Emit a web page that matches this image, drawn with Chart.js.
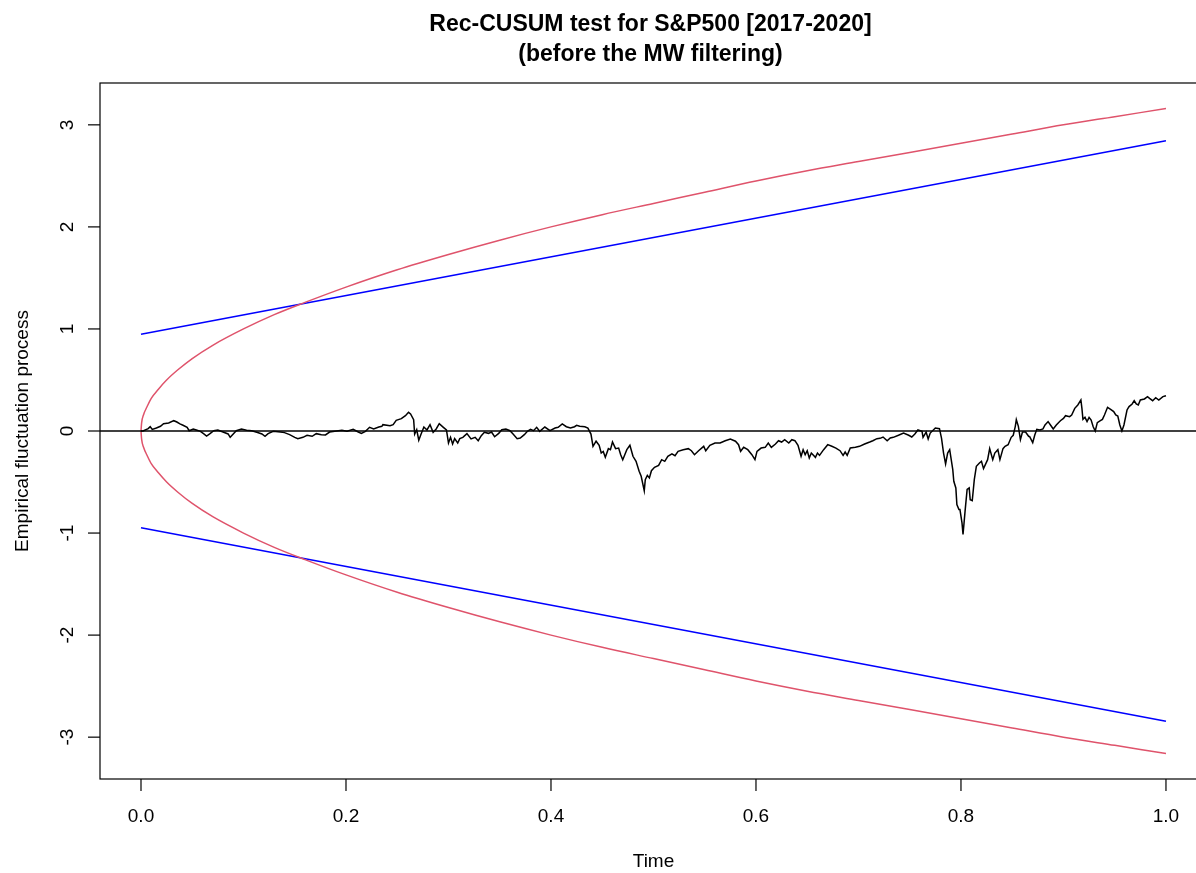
<!DOCTYPE html>
<html>
<head>
<meta charset="utf-8">
<script src="https://cdn.jsdelivr.net/npm/chart.js@4.4.0/dist/chart.umd.min.js"></script>
<style>
  html, body { margin: 0; padding: 0; background: #fff; }
  canvas { display: block; }
</style>
</head>
<body>
<canvas id="myChart" width="1196" height="873"></canvas>
<script>
// empirical fluctuation process
const processTime = [
  0, 0.002, 0.007, 0.009, 0.011, 0.015, 0.019, 0.022, 0.027, 0.032,
  0.035, 0.038, 0.041, 0.045, 0.047, 0.051, 0.054, 0.058, 0.061, 0.064,
  0.067, 0.071, 0.075, 0.080, 0.085, 0.087, 0.090, 0.093, 0.098, 0.103,
  0.108, 0.113, 0.118, 0.121, 0.124, 0.129, 0.136, 0.140, 0.145, 0.150,
  0.153, 0.158, 0.162, 0.167, 0.171, 0.176, 0.180, 0.184, 0.189, 0.196,
  0.201, 0.207, 0.212, 0.215, 0.219, 0.223, 0.227, 0.232, 0.235, 0.236,
  0.243, 0.246, 0.249, 0.254, 0.258, 0.261, 0.263, 0.266, 0.267, 0.269,
  0.271, 0.273, 0.276, 0.279, 0.282, 0.285, 0.288, 0.291, 0.295, 0.298,
  0.300, 0.302, 0.304, 0.306, 0.309, 0.311, 0.314, 0.318, 0.322, 0.326,
  0.329, 0.332, 0.335, 0.339, 0.342, 0.345, 0.349, 0.352, 0.356, 0.360,
  0.363, 0.367, 0.370, 0.374, 0.377, 0.380, 0.383, 0.386, 0.389, 0.394,
  0.399, 0.404, 0.407, 0.411, 0.415, 0.419, 0.423, 0.425, 0.428, 0.433,
  0.436, 0.439, 0.441, 0.444, 0.447, 0.449, 0.451, 0.453, 0.456, 0.458,
  0.460, 0.463, 0.466, 0.468, 0.470, 0.472, 0.474, 0.477, 0.480, 0.483,
  0.486, 0.488, 0.491, 0.492, 0.494, 0.496, 0.498, 0.501, 0.505, 0.508,
  0.511, 0.514, 0.518, 0.521, 0.524, 0.529, 0.534, 0.537, 0.540, 0.544,
  0.549, 0.551, 0.555, 0.560, 0.565, 0.570, 0.575, 0.580, 0.583, 0.585,
  0.588, 0.592, 0.596, 0.599, 0.601, 0.605, 0.609, 0.612, 0.615, 0.619,
  0.622, 0.625, 0.628, 0.632, 0.635, 0.638, 0.641, 0.644, 0.646, 0.648,
  0.650, 0.652, 0.654, 0.658, 0.660, 0.662, 0.666, 0.670, 0.674, 0.678,
  0.682, 0.685, 0.687, 0.689, 0.692, 0.697, 0.701, 0.706, 0.711, 0.714,
  0.718, 0.721, 0.724, 0.728, 0.731, 0.734, 0.739, 0.744, 0.749, 0.752,
  0.755, 0.758, 0.762, 0.763, 0.766, 0.768, 0.770, 0.775, 0.779, 0.781,
  0.783, 0.785, 0.787, 0.789, 0.790, 0.792, 0.793, 0.795, 0.796, 0.798,
  0.799, 0.801, 0.802, 0.803, 0.804, 0.806, 0.808, 0.809, 0.811, 0.813,
  0.815, 0.818, 0.820, 0.822, 0.826, 0.828, 0.831, 0.833, 0.836, 0.838,
  0.841, 0.843, 0.846, 0.849, 0.851, 0.853, 0.854, 0.856, 0.858, 0.860,
  0.863, 0.866, 0.867, 0.870, 0.872, 0.874, 0.877, 0.880, 0.882, 0.885,
  0.888, 0.890, 0.893, 0.897, 0.900, 0.902, 0.906, 0.908, 0.911, 0.914,
  0.917, 0.918, 0.919, 0.921, 0.923, 0.925, 0.927, 0.929, 0.931, 0.933,
  0.936, 0.938, 0.940, 0.943, 0.946, 0.949, 0.951, 0.953, 0.955, 0.957,
  0.959, 0.962, 0.964, 0.967, 0.969, 0.971, 0.973, 0.975, 0.979, 0.982,
  0.984, 0.987, 0.990, 0.993, 0.997, 1.000
];
const processValues = [
  0, 0, 0.023, 0.042, 0.016, 0.029, 0.046, 0.072, 0.078, 0.101,
  0.088, 0.069, 0.056, 0.036, 0.003, 0.020, 0.010, -0.003, -0.026, -0.049,
  -0.029, 0.003, 0.010, -0.010, -0.029, -0.062, -0.029, 0.003, 0.020, 0.007,
  0.003, -0.013, -0.029, -0.052, -0.026, -0.003, -0.010, -0.016, -0.036, -0.062,
  -0.075, -0.062, -0.042, -0.052, -0.026, -0.036, -0.039, -0.010, -0.003, 0.007,
  -0.003, 0.016, -0.010, -0.023, -0.003, 0.036, 0.020, 0.039, 0.046, 0.062,
  0.052, 0.062, 0.105, 0.121, 0.150, 0.183, 0.167, 0.111, -0.030, 0.013,
  -0.090, -0.036, 0.039, 0.010, 0.062, -0.013, 0.020, 0.072, 0.036, 0.010,
  -0.118, -0.062, -0.127, -0.075, -0.118, -0.075, -0.062, -0.026, -0.078, -0.062,
  -0.095, -0.046, -0.013, -0.023, -0.010, -0.056, -0.023, 0.013, 0.020, 0.003,
  -0.030, -0.075, -0.069, -0.036, -0.003, 0.016, 0.003, 0.036, -0.003, 0.039,
  0.003, 0.029, 0.036, 0.069, 0.042, 0.029, 0.042, 0.056, 0.046, 0.042,
  0.029, -0.030, -0.150, -0.100, -0.140, -0.216, -0.200, -0.258, -0.173, -0.183,
  -0.108, -0.173, -0.167, -0.232, -0.281, -0.232, -0.183, -0.140, -0.248, -0.297,
  -0.395, -0.444, -0.585, -0.477, -0.435, -0.460, -0.389, -0.356, -0.337, -0.281,
  -0.297, -0.248, -0.225, -0.242, -0.199, -0.183, -0.173, -0.193, -0.232, -0.193,
  -0.150, -0.193, -0.140, -0.118, -0.118, -0.095, -0.078, -0.100, -0.134, -0.199,
  -0.160, -0.183, -0.232, -0.281, -0.199, -0.167, -0.160, -0.118, -0.160, -0.127,
  -0.095, -0.108, -0.085, -0.118, -0.085, -0.095, -0.140, -0.248, -0.183, -0.232,
  -0.193, -0.265, -0.216, -0.258, -0.216, -0.239, -0.183, -0.134, -0.150, -0.167,
  -0.193, -0.239, -0.206, -0.239, -0.167, -0.160, -0.150, -0.127, -0.108, -0.095,
  -0.075, -0.072, -0.059, -0.095, -0.069, -0.062, -0.042, -0.020, -0.042, -0.059,
  -0.030, 0.010, -0.003, -0.062, -0.010, -0.078, -0.020, 0.029, 0.023, -0.069,
  -0.216, -0.323, -0.216, -0.183, -0.248, -0.379, -0.493, -0.558, -0.720, -0.770,
  -0.770, -0.900, -1.014, -0.900, -0.785, -0.573, -0.558, -0.673, -0.683, -0.477,
  -0.346, -0.314, -0.297, -0.369, -0.281, -0.173, -0.281, -0.216, -0.183, -0.281,
  -0.173, -0.150, -0.134, -0.062, -0.042, 0.046, 0.111, 0.046, -0.085, -0.010,
  -0.010, -0.052, -0.056, -0.114, -0.039, 0.016, 0.010, 0.020, 0.059, 0.092,
  0.049, 0.020, 0.059, 0.101, 0.124, 0.150, 0.141, 0.157, 0.222, 0.255,
  0.304, 0.222, 0.114, 0.134, 0.092, 0.134, 0.108, 0.042, 0.000, 0.082,
  0.101, 0.114, 0.157, 0.232, 0.212, 0.190, 0.157, 0.147, 0.059, 0.000,
  0.059, 0.206, 0.239, 0.265, 0.297, 0.265, 0.255, 0.304, 0.314, 0.337,
  0.320, 0.297, 0.327, 0.304, 0.337, 0.346
];

// red (curved) boundaries
const curveTime = [0, 0.0006, 0.0025, 0.006, 0.01, 0.017, 0.025, 0.036, 0.05, 0.07,
  0.1, 0.13, 0.16, 0.2, 0.25, 0.3, 0.35, 0.4, 0.45, 0.5, 0.55, 0.6, 0.65, 0.7,
  0.75, 0.8, 0.85, 0.9, 0.95, 1.0];
const curveUpper = [0, 0.08, 0.16, 0.24, 0.32, 0.41, 0.50, 0.60, 0.71, 0.84,
  1.00, 1.14, 1.26, 1.41, 1.58, 1.73, 1.87, 2.00, 2.12, 2.23, 2.34, 2.45, 2.55, 2.64,
  2.73, 2.82, 2.91, 3.00, 3.08, 3.16];
const curveLower = [0, -0.08, -0.16, -0.24, -0.32, -0.41, -0.50, -0.60, -0.71, -0.84,
  -1.00, -1.14, -1.26, -1.41, -1.58, -1.73, -1.87, -2.00, -2.12, -2.23, -2.34, -2.45, -2.55, -2.64,
  -2.73, -2.82, -2.91, -3.00, -3.08, -3.16];

// blue (straight) boundaries
const lineTime = [0, 1];
const lineUpper = [0.948, 2.844];
const lineLower = [-0.948, -2.844];

const xTicks = [0, 0.2, 0.4, 0.6, 0.8, 1.0];
const xTickLabels = ['0.0', '0.2', '0.4', '0.6', '0.8', '1.0'];
const yTicks = [-3, -2, -1, 0, 1, 2, 3];
const yTickLabels = ['-3', '-2', '-1', '0', '1', '2', '3'];

const titleLines = ['Rec-CUSUM test for S&P500 [2017-2020]', '(before the MW filtering)'];
const xTitle = 'Time';
const yTitle = 'Empirical fluctuation process';

const FONT = '"Liberation Sans", Arial, Helvetica, sans-serif';

function pts(xs, ys) {
  return xs.map((v, i) => ({ x: v, y: ys[i] }));
}

function lineSet(data, color, smooth) {
  return {
    data: data,
    showLine: true,
    borderColor: color,
    borderWidth: 1.5,
    pointRadius: 0,
    tension: 0,
    cubicInterpolationMode: smooth ? 'monotone' : 'default',
    fill: false
  };
}

// R style frame, ticks and labels
const rAxes = {
  id: 'rAxes',
  afterDraw(chart) {
    const ctx = chart.ctx;
    const a = chart.chartArea;
    const x = chart.scales.x;
    const y = chart.scales.y;
    ctx.save();
    ctx.strokeStyle = '#000';
    ctx.lineWidth = 1.2;
    const right = x.getPixelForValue(1.04);
    ctx.strokeRect(a.left, a.top, right - a.left, a.bottom - a.top);

    ctx.fillStyle = '#000';
    ctx.font = '19px ' + FONT;
    ctx.textAlign = 'center';
    ctx.textBaseline = 'alphabetic';
    xTicks.forEach((t, i) => {
      const px = x.getPixelForValue(t);
      ctx.beginPath();
      ctx.moveTo(px, a.bottom);
      ctx.lineTo(px, a.bottom + 12);
      ctx.stroke();
      ctx.fillText(xTickLabels[i], px, a.bottom + 43);
    });
    yTicks.forEach((t, i) => {
      const py = y.getPixelForValue(t);
      ctx.beginPath();
      ctx.moveTo(a.left - 12, py);
      ctx.lineTo(a.left, py);
      ctx.stroke();
      ctx.save();
      ctx.translate(73, py);
      ctx.rotate(-Math.PI / 2);
      ctx.fillText(yTickLabels[i], 0, 0);
      ctx.restore();
    });

    const midX = (a.left + right) / 2;
    ctx.fillText(xTitle, midX, 867);
    ctx.save();
    ctx.translate(28, (a.top + a.bottom) / 2);
    ctx.rotate(-Math.PI / 2);
    ctx.fillText(yTitle, 0, 0);
    ctx.restore();

    ctx.font = 'bold 23px ' + FONT;
    ctx.fillText(titleLines[0], midX - 3, 31);
    ctx.fillText(titleLines[1], midX - 3, 61);
    ctx.restore();
  }
};

let ctx = document.getElementById('myChart');

let myChart = new Chart(ctx, {
  type: 'scatter',
  data: {
    datasets: [
      lineSet(pts(processTime, processValues), '#000000', false),
      lineSet(pts([-0.04, 1.04], [0, 0]), '#000000', false),
      lineSet(pts(curveTime, curveUpper), '#DF536B', true),
      lineSet(pts(curveTime, curveLower), '#DF536B', true),
      lineSet(pts(lineTime, lineUpper), '#0000FF', false),
      lineSet(pts(lineTime, lineLower), '#0000FF', false)
    ]
  },
  options: {
    responsive: false,
    animation: false,
    layout: {
      padding: { left: 100, top: 83, right: 0, bottom: 94 }
    },
    plugins: {
      legend: { display: false },
      tooltip: { enabled: false },
      title: { display: false }
    },
    scales: {
      x: {
        type: 'linear',
        display: false,
        min: -0.04,
        max: 1.0293
      },
      y: {
        type: 'linear',
        display: false,
        min: -3.41,
        max: 3.41
      }
    }
  },
  plugins: [rAxes]
});
</script>
</body>
</html>
